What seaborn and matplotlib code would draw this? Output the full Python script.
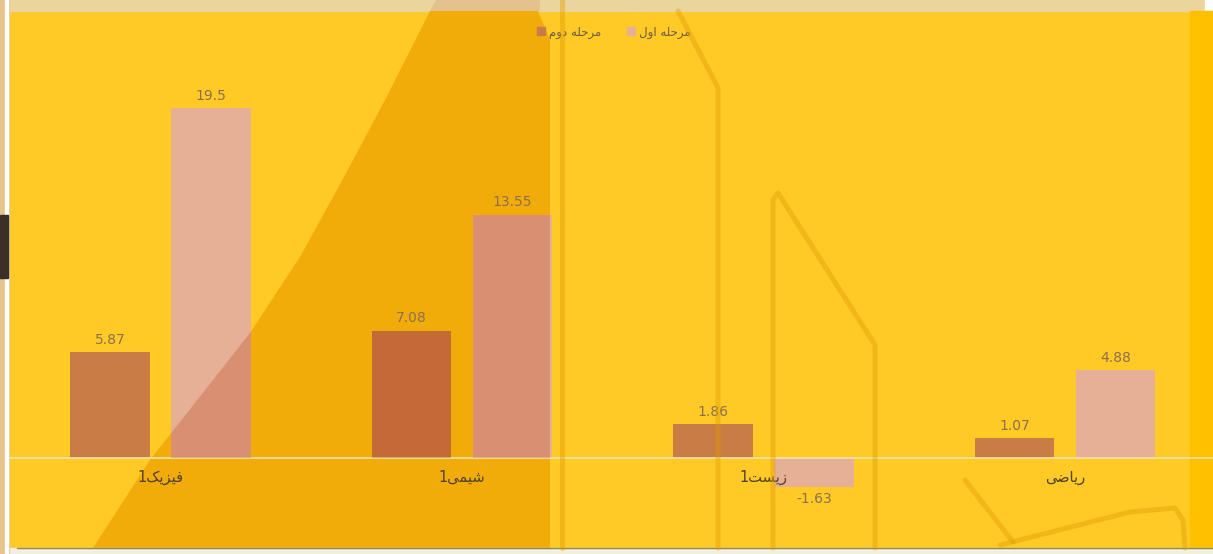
import numpy as np
import pandas as pd
import matplotlib.pyplot as plt
import seaborn as sns
from matplotlib.patches import Polygon, Rectangle
from matplotlib.lines import Line2D

# ==============================
# DATI
# ==============================
# testo persiano gia' "shaped" (forme di presentazione, ordine visivo)
subjects = [
    "1\uFB8F\uFBFE\uFEB0\uFBFF\uFED3",   # فیزیک1
    "1\uFBFD\uFEE4\uFBFF\uFEB7",         # شیمی1
    "1\uFE96\uFEB4\uFBFE\uFEAF",         # زیست1
    "\uFBFD\uFEBF\uFE8E\uFBFE\uFEAD",    # ریاضی
]
stage_2 = "\uFEE1\uFEED\uFEA9 \uFEEA\uFEE0\uFEA3\uFEAE\uFEE3"   # مرحله دوم
stage_1 = "\uFEDD\uFEED\uFE8D \uFEEA\uFEE0\uFEA3\uFEAE\uFEE3"   # مرحله اول

stage_2_values = [5.87, 7.08, 1.86, 1.07]
stage_1_values = [19.5, 13.55, -1.63, 4.88]

df = pd.DataFrame({
    "subject": subjects * 2,
    "stage": [stage_2] * 4 + [stage_1] * 4,
    "value": stage_2_values + stage_1_values,
})

brown = "#C97D44"
pink = "#E6B097"

# ==============================
# FIGURA
# ==============================
sns.set_theme(style="white")
plt.rcParams["font.family"] = ["DejaVu Sans"]

W, H = 1213, 554
fig = plt.figure(figsize=(W / 100, H / 100), dpi=100)

# forma arancione dello sfondo (pixel)
wedge = [(93, 548), (150, 460), (250, 333), (300, 257), (344, 177),
         (385, 100), (430, 11), (538, 11), (550, 40), (550, 548)]

# sfondo decorativo (coordinate in pixel)
bg = fig.add_axes([0, 0, 1, 1], zorder=0)
bg.set_xlim(0, W)
bg.set_ylim(H, 0)
bg.axis("off")
bg.add_patch(Rectangle((0, 0), W, H, color="#FFC926"))
bg.add_patch(Rectangle((9, 0), 1196, 11, color="#EAD69C"))
bg.add_patch(Polygon([(430, 11), (436, 0), (540, 0), (540, 11)], color="#E4C290", lw=0))
bg.add_patch(Polygon(wedge, color="#F2AC0A", lw=0))
bg.add_patch(Rectangle((1205, 0), 8, 11, color="#FFFFFF"))
bg.add_patch(Rectangle((1190, 11), 23, 537, color="#FFC000"))
bg.add_patch(Rectangle((0, 548), W, 6, color="#F3EEE4"))
bg.plot([17, W], [547.5, 547.5], color="#8C8C3C", lw=1)
bg.add_patch(Rectangle((0, 0), 9, H, color="#E6C48C"))
bg.add_patch(Rectangle((5, 0), 3, H, color="#FFFFFF"))
bg.add_patch(Rectangle((0, 215), 8, 63, color="#3A3028"))

# ==============================
# GRAFICO
# ==============================
ax = fig.add_axes([9.75 / W, 7 / H, 1206 / W, 537 / H], zorder=1)
ax.patch.set_alpha(0)

sns.barplot(
    data=df,
    x="subject",
    y="value",
    hue="stage",
    order=subjects,
    hue_order=[stage_2, stage_1],
    palette=[brown, pink],
    width=0.67,
    gap=0.21,
    saturation=1,
    linewidth=0,
    legend=False,
    ax=ax,
)

for cont in ax.containers:
    ax.bar_label(cont, fmt="%g", padding=4, fontsize=10, color="#8B7050")

ax.set_axisbelow(False)
ax.set_xlim(-0.5, 3.5)
ax.set_ylim(-5, 25)
ax.set_xlabel("")
ax.set_ylabel("")
ax.set_yticks([])

for s in ["top", "left", "right"]:
    ax.spines[s].set_visible(False)
ax.spines["bottom"].set_position(("data", 0))
ax.spines["bottom"].set_color("#F3E2B4")
ax.spines["bottom"].set_linewidth(1.2)
ax.tick_params(axis="x", length=0, pad=9, labelsize=10.5, labelcolor="#4D4030")

handles = [
    Line2D([], [], marker="s", linestyle="", markersize=5.5, color=brown),
    Line2D([], [], marker="s", linestyle="", markersize=5.5, color=pink),
]
ax.legend(
    handles, [stage_2, stage_1],
    loc="center",
    bbox_to_anchor=(614 / W, 1 - 32 / H),
    bbox_transform=fig.transFigure,
    ncol=2,
    frameon=False,
    fontsize=8.5,
    labelcolor="#6B5B45",
    handletextpad=0.3,
    columnspacing=2.2,
    handlelength=0.7,
)

# ==============================
# SOVRAPPOSIZIONE
# ==============================
ov = fig.add_axes([0, 0, 1, 1], zorder=2)
ov.set_xlim(0, W)
ov.set_ylim(H, 0)
ov.axis("off")
ov.patch.set_alpha(0)

# le barre si scuriscono dove passano sopra la forma arancione
for bar in list(ax.patches):
    shade = Polygon(wedge, color="#B43C14", alpha=0.28, lw=0)
    ov.add_patch(shade)
    shade.set_clip_path(bar)

line_kw = dict(color="#E09A00", alpha=0.4, lw=3.6, solid_capstyle="round")
ov.plot([562, 562], [0, 548], **line_kw)
ov.plot([678, 718, 718], [11, 88, 548], **line_kw)
ov.plot([773, 773, 778, 875, 875], [548, 200, 193, 345, 548], **line_kw)
ov.plot([965, 1013], [480, 542], **line_kw)
ov.plot([1000, 1130, 1175, 1183, 1185], [545, 512, 508, 520, 548], **line_kw)

fig.savefig("out.png", dpi=100)
